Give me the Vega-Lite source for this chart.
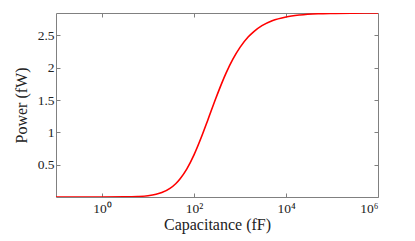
{
  "$schema": "https://vega.github.io/schema/vega-lite/v6.json",
  "width": 322,
  "height": 184,
  "autosize": {"type": "none"},
  "padding": {"left": 56, "top": 13, "right": 37, "bottom": 44},
  "background": "white",
  "config": {
    "view": {"stroke": "#808080", "strokeWidth": 1},
    "font": "Liberation Serif",
    "axis": {
      "grid": false,
      "domain": false,
      "tickColor": "#808080",
      "tickSize": -4,
      "tickWidth": 1,
      "labelFont": "Liberation Serif",
      "labelFontSize": 13.5,
      "labelColor": "#222222",
      "titleFont": "Liberation Serif",
      "titleFontSize": 16,
      "titleFontWeight": "normal",
      "titleColor": "#222222"
    }
  },
  "data": {
    "values": [
      {"C": 0.1, "P": 0},
      {"C": 0.3, "P": 0.00002},
      {"C": 1, "P": 0.0002},
      {"C": 3, "P": 0.002},
      {"C": 6, "P": 0.0078},
      {"C": 10, "P": 0.020},
      {"C": 15, "P": 0.042},
      {"C": 20, "P": 0.068},
      {"C": 30, "P": 0.133},
      {"C": 40, "P": 0.205},
      {"C": 50, "P": 0.282},
      {"C": 70, "P": 0.435},
      {"C": 100, "P": 0.652},
      {"C": 150, "P": 0.955},
      {"C": 200, "P": 1.192},
      {"C": 300, "P": 1.531},
      {"C": 400, "P": 1.758},
      {"C": 500, "P": 1.919},
      {"C": 700, "P": 2.131},
      {"C": 1000, "P": 2.314},
      {"C": 1500, "P": 2.474},
      {"C": 2000, "P": 2.559},
      {"C": 3000, "P": 2.650},
      {"C": 5000, "P": 2.726},
      {"C": 10000, "P": 2.785},
      {"C": 20000, "P": 2.815},
      {"C": 50000, "P": 2.834},
      {"C": 100000, "P": 2.840},
      {"C": 300000, "P": 2.844},
      {"C": 1000000, "P": 2.8455}
    ]
  },
  "layer": [
    {
      "mark": {"type": "line", "color": "#ff0000", "strokeWidth": 1.6, "clip": true, "interpolate": "monotone"},
      "encoding": {
        "x": {
          "field": "C", "type": "quantitative",
          "scale": {"type": "log", "domain": [0.1, 1000000], "nice": false},
          "axis": {
            "orient": "bottom",
            "values": [1, 100, 10000, 1000000],
            "labelExpr": "datum.value == 1 ? '10⁰' : datum.value == 100 ? '10²' : datum.value == 10000 ? '10⁴' : '10⁶'",
            "labelPadding": 8,
            "title": "Capacitance (fF)",
            "titlePadding": 2
          }
        },
        "y": {
          "field": "P", "type": "quantitative",
          "scale": {"domain": [0, 2.846], "nice": false, "zero": false},
          "axis": {
            "orient": "left",
            "values": [0.5, 1, 1.5, 2, 2.5],
            "format": "~g",
            "labelPadding": 6,
            "title": "Power (fW)",
            "titlePadding": 8
          }
        }
      }
    },
    {
      "mark": {"type": "line", "strokeOpacity": 0},
      "encoding": {
        "x": {
          "field": "C", "type": "quantitative",
          "scale": {"type": "log", "domain": [0.1, 1000000], "nice": false},
          "axis": {"orient": "top", "values": [1, 100, 10000, 1000000], "labels": false, "title": null}
        },
        "y": {
          "field": "P", "type": "quantitative",
          "scale": {"domain": [0, 2.846], "nice": false, "zero": false},
          "axis": {"orient": "right", "values": [0.5, 1, 1.5, 2, 2.5], "labels": false, "title": null}
        }
      }
    }
  ],
  "resolve": {"axis": {"x": "independent", "y": "independent"}}
}
